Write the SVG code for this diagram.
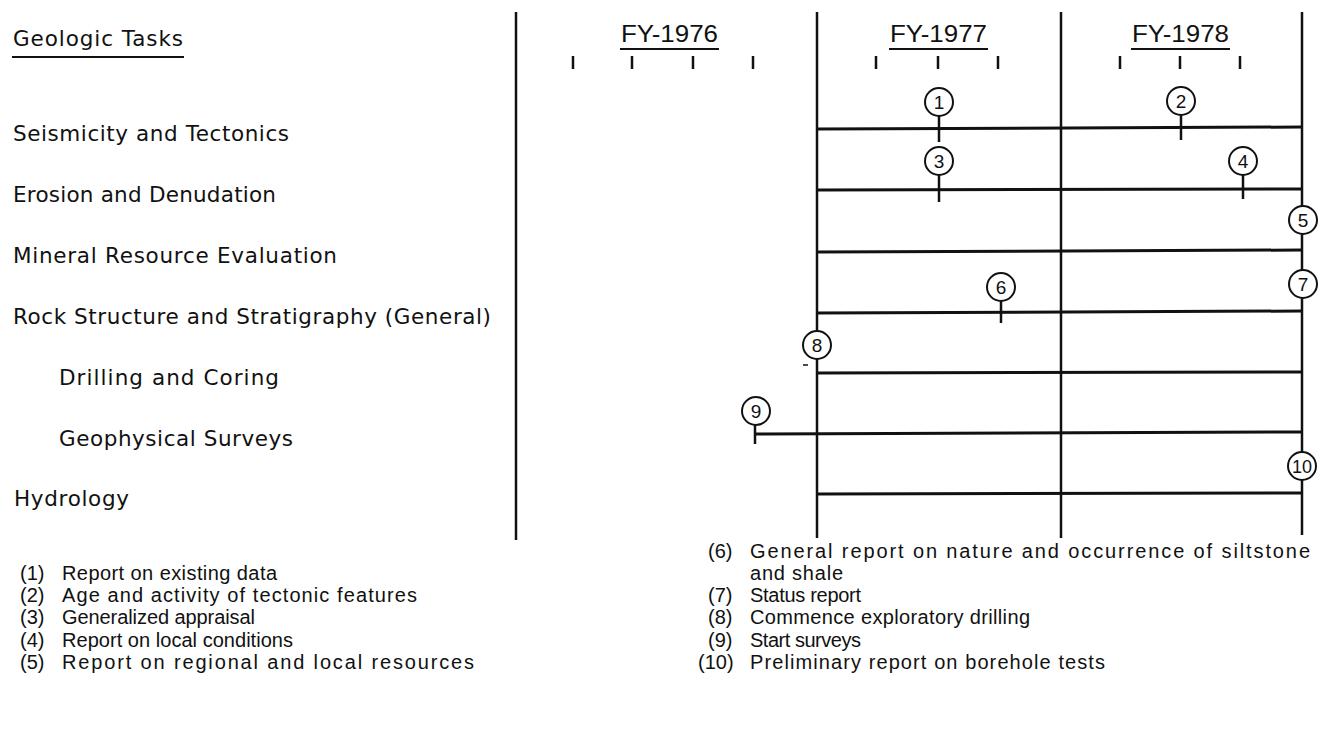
<svg xmlns="http://www.w3.org/2000/svg" width="1318" height="744" viewBox="0 0 1318 744">
<style>
.lbl{font-family:"DejaVu Sans","Liberation Sans",sans-serif;font-size:21.5px;fill:#111}
.hdr{font-family:"Liberation Sans",Arial,sans-serif;font-size:23px;fill:#111}
.leg{font-family:"Liberation Sans",Arial,sans-serif;font-size:20px;fill:#111}
.num{font-family:"Liberation Sans",Arial,sans-serif;font-size:19px;fill:#111;text-anchor:middle}
.grid{stroke:#111;stroke-width:2.5;fill:none}
.bar{stroke:#111;stroke-width:3;fill:none}
.tick{stroke:#111;stroke-width:2.5;fill:none}
.ms{fill:#fff;stroke:#111;stroke-width:2}
.stem{stroke:#111;stroke-width:2.5}
</style>
<rect width="1318" height="744" fill="#fff"/>
<g id="task-labels">
<text class="lbl" x="13" y="46" textLength="170" lengthAdjust="spacing">Geologic Tasks</text>
<line x1="12" y1="57" x2="184" y2="57" stroke="#111" stroke-width="2"/>
<text class="lbl" x="13" y="141" textLength="276" lengthAdjust="spacing">Seismicity and Tectonics</text>
<text class="lbl" x="13" y="202" textLength="263" lengthAdjust="spacing">Erosion and Denudation</text>
<text class="lbl" x="13" y="263" textLength="324" lengthAdjust="spacing">Mineral Resource Evaluation</text>
<text class="lbl" x="13" y="324" textLength="478" lengthAdjust="spacing">Rock Structure and Stratigraphy (General)</text>
<text class="lbl" x="59" y="385" textLength="220" lengthAdjust="spacing">Drilling and Coring</text>
<text class="lbl" x="59" y="446" textLength="234" lengthAdjust="spacing">Geophysical Surveys</text>
<text class="lbl" x="14" y="506" textLength="115" lengthAdjust="spacing">Hydrology</text>
</g>
<g id="timeline-header">
<text class="hdr" x="621" y="42" textLength="97" lengthAdjust="spacingAndGlyphs">FY-1976</text>
<line x1="620" y1="49" x2="719" y2="49" stroke="#111" stroke-width="2"/>
<text class="hdr" x="890" y="42" textLength="97" lengthAdjust="spacingAndGlyphs">FY-1977</text>
<line x1="889" y1="49" x2="988" y2="49" stroke="#111" stroke-width="2"/>
<text class="hdr" x="1132" y="42" textLength="97" lengthAdjust="spacingAndGlyphs">FY-1978</text>
<line x1="1131" y1="49" x2="1230" y2="49" stroke="#111" stroke-width="2"/>
<path class="tick" d="M573 56V69M632 56V69M693 56V69M753 56V69M876 56V69M938 56V69M998 56V69M1120 56V69M1180 56V69M1240 56V69"/>
</g>
<g id="connectors">
<line class="grid" x1="516" y1="12" x2="516" y2="540"/>
<line class="grid" x1="817" y1="12" x2="817" y2="538"/>
<line class="grid" x1="1061" y1="12" x2="1061" y2="538"/>
<line class="grid" x1="1302" y1="12" x2="1302" y2="535"/>
<line class="bar" x1="817" y1="129" x2="1302" y2="127"/>
<line class="bar" x1="817" y1="190" x2="1302" y2="189"/>
<line class="bar" x1="817" y1="252" x2="1302" y2="250"/>
<line class="bar" x1="817" y1="313" x2="1302" y2="311"/>
<line class="bar" x1="817" y1="373" x2="1302" y2="372"/>
<line class="bar" x1="755" y1="434" x2="1302" y2="432"/>
<line class="bar" x1="817" y1="494" x2="1302" y2="493"/>
<line x1="803" y1="365" x2="808" y2="365" stroke="#111" stroke-width="1.5"/>
</g>
<g id="m1"><line class="stem" x1="939" y1="116" x2="939" y2="142"/><circle class="ms" cx="939" cy="102" r="14"/><text class="num" x="939" y="109">1</text></g>
<g id="m2"><line class="stem" x1="1181" y1="115" x2="1181" y2="140"/><circle class="ms" cx="1181" cy="101" r="14"/><text class="num" x="1181" y="108">2</text></g>
<g id="m3"><line class="stem" x1="939" y1="175" x2="939" y2="202"/><circle class="ms" cx="939" cy="161" r="14"/><text class="num" x="939" y="168">3</text></g>
<g id="m4"><line class="stem" x1="1243" y1="175" x2="1243" y2="199"/><circle class="ms" cx="1243" cy="161" r="14"/><text class="num" x="1243" y="168">4</text></g>
<g id="m5"><circle class="ms" cx="1303" cy="220" r="14"/><text class="num" x="1303" y="227">5</text></g>
<g id="m6"><line class="stem" x1="1001" y1="301" x2="1001" y2="323"/><circle class="ms" cx="1001" cy="287" r="14"/><text class="num" x="1001" y="294">6</text></g>
<g id="m7"><circle class="ms" cx="1303" cy="284" r="14"/><text class="num" x="1303" y="291">7</text></g>
<g id="m8"><circle class="ms" cx="817" cy="345" r="14"/><text class="num" x="817" y="352">8</text></g>
<g id="m9"><line class="stem" x1="755" y1="425" x2="755" y2="444"/><circle class="ms" cx="756" cy="411" r="14"/><text class="num" x="756" y="418">9</text></g>
<g id="m10"><circle class="ms" cx="1302" cy="466" r="14"/><text class="num" x="1302" y="473" textLength="20" lengthAdjust="spacingAndGlyphs">10</text></g>
<g id="legend">
<text class="leg" x="20" y="580">(1)</text><text class="leg" x="62" y="580" textLength="215" lengthAdjust="spacing">Report on existing data</text>
<text class="leg" x="20" y="602">(2)</text><text class="leg" x="62" y="602" textLength="355" lengthAdjust="spacing">Age and activity of tectonic features</text>
<text class="leg" x="20" y="624">(3)</text><text class="leg" x="62" y="624" textLength="193" lengthAdjust="spacing">Generalized appraisal</text>
<text class="leg" x="20" y="647">(4)</text><text class="leg" x="62" y="647" textLength="231" lengthAdjust="spacing">Report on local conditions</text>
<text class="leg" x="20" y="669">(5)</text><text class="leg" x="62" y="669" textLength="412" lengthAdjust="spacing">Report on regional and local resources</text>
<text class="leg" x="708" y="558">(6)</text><text class="leg" x="750" y="558" textLength="560" lengthAdjust="spacing">General report on nature and occurrence of siltstone</text>
<text class="leg" x="750" y="580" textLength="93" lengthAdjust="spacing">and shale</text>
<text class="leg" x="708" y="602">(7)</text><text class="leg" x="750" y="602" textLength="111" lengthAdjust="spacing">Status report</text>
<text class="leg" x="708" y="624">(8)</text><text class="leg" x="750" y="624" textLength="280" lengthAdjust="spacing">Commence exploratory drilling</text>
<text class="leg" x="708" y="647">(9)</text><text class="leg" x="750" y="647" textLength="111" lengthAdjust="spacing">Start surveys</text>
<text class="leg" x="698" y="669">(10)</text><text class="leg" x="750" y="669" textLength="355" lengthAdjust="spacing">Preliminary report on borehole tests</text>
</g>
</svg>
